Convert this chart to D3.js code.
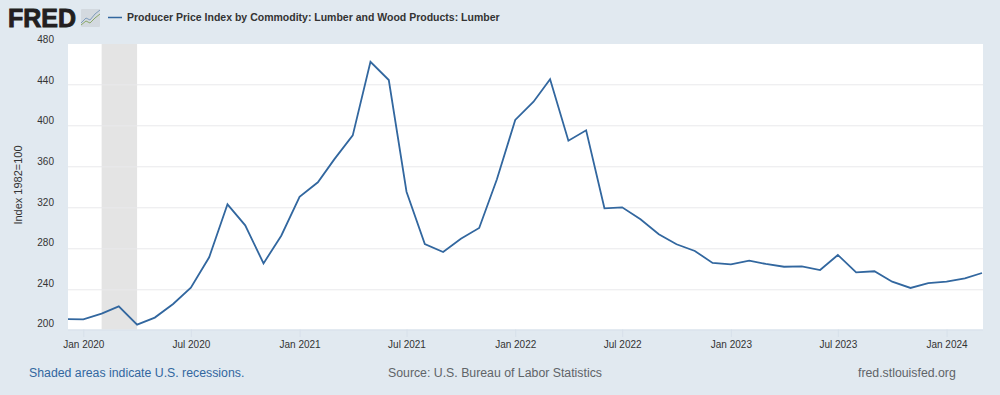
<!DOCTYPE html>
<html>
<head>
<meta charset="utf-8">
<title>Producer Price Index by Commodity: Lumber</title>
<script src="https://cdn.jsdelivr.net/npm/d3@7"></script>
<style>
    html, body { margin: 0; padding: 0; background: #e1e9f0; overflow: hidden; }
    svg { display: block; font-family: "Liberation Sans", Arial, sans-serif; }
</style>
</head>
<body>
<div id="chart"></div>
<script>
const seriesName = 'Producer Price Index by Commodity: Lumber and Wood Products: Lumber';
const firstMonth = '2019-12-01';
const lumberValues = [
    211, 210.7, 216.3, 223.4, 205.5, 212.4, 225.7, 241.6, 271.2, 322.9, 302.4, 265.3, 292.3,
    330.3, 344.4, 367, 390.2, 462, 444.2, 335.2, 284.2, 276.4, 289.4, 299.8, 347.3,
    405.2, 423, 444.9, 385, 395.1, 319, 320, 308.3, 293.7, 283.9, 277.4, 265.7,
    264.4, 267.9, 264.7, 262, 262.4, 258.8, 273.5, 256.6, 257.6, 247.4, 241.3, 246.1,
    247.4, 250.7, 255.9
];
const yTicks = [200, 240, 280, 320, 360, 400, 440, 480];
const xTicks = ['2020-01-01', '2020-07-01', '2021-01-01', '2021-07-01', '2022-01-01', '2022-07-01', '2023-01-01', '2023-07-01', '2024-01-01'];
const recessions = [['2020-02-01', '2020-04-01']];

const width = 1000;
const height = 395;
const plot = {left: 68, right: 983, top: 44, bottom: 329.5};
const parseDate = d3.utcParse('%Y-%m-%d');

const months = lumberValues.map((v, i) => d3.utcMonth.offset(parseDate(firstMonth), i));
const data = months.map((date, i) => ({date: date, value: lumberValues[i]}));

const x = d3.scaleUtc()
    .domain([parseDate(firstMonth), months[months.length - 1]])
    .range([65, 982]);

const y = d3.scaleLinear()
    .domain([200, 480])
    .range([330.3, 43.3]);

const svg = d3.select('#chart')
    .append('svg')
    .attr('width', width)
    .attr('height', height);

svg.append('clipPath')
    .attr('id', 'plot-clip')
    .append('rect')
    .attr('x', plot.left)
    .attr('y', plot.top)
    .attr('width', plot.right - plot.left)
    .attr('height', plot.bottom - plot.top);

svg.append('rect')
    .attr('x', plot.left)
    .attr('y', plot.top)
    .attr('width', plot.right - plot.left)
    .attr('height', plot.bottom - plot.top)
    .attr('fill', '#fff');

svg.selectAll('.recession')
    .data(recessions)
    .join('rect')
    .attr('class', 'recession')
    .attr('x', d => x(parseDate(d[0])))
    .attr('y', plot.top)
    .attr('width', d => x(parseDate(d[1])) - x(parseDate(d[0])))
    .attr('height', plot.bottom - plot.top)
    .attr('fill', '#e4e4e4');

// y axis: gridlines across the plot, labels sit just above them
const yAxis = svg.append('g')
    .attr('transform', `translate(${plot.left},0)`)
    .call(d3.axisLeft(y).tickValues(yTicks).tickSize(-(plot.right - plot.left)).tickPadding(14));
yAxis.select('.domain').remove();
yAxis.selectAll('.tick line')
    .attr('stroke', '#e9e9ec')
    .attr('stroke-width', 1)
    .attr('display', d => d === 200 || d === 480 ? 'none' : null);
// the labels in the original are spaced a little tighter than the gridlines
yAxis.selectAll('.tick text')
    .attr('dy', d => -3.5 + 3 * (d - 200) / 280)
    .attr('fill', '#333')
    .style('font-size', '10px');

const xAxis = svg.append('g')
    .attr('transform', `translate(0,${plot.bottom})`)
    .call(d3.axisBottom(x)
        .tickValues(xTicks.map(parseDate))
        .tickSize(7.5)
        .tickPadding(3.5)
        .tickFormat(d3.utcFormat('%b %Y')));
xAxis.select('.domain')
    .attr('d', `M${plot.left},0.5H${plot.right}`)
    .attr('stroke', '#d7e0ea');
xAxis.selectAll('.tick line').attr('stroke', '#d7e0ea');
xAxis.selectAll('.tick text')
    .attr('fill', '#333')
    .style('font-size', '10px');

const line = d3.line()
    .x(d => x(d.date))
    .y(d => y(d.value));

svg.append('path')
    .datum(data)
    .attr('clip-path', 'url(#plot-clip)')
    .attr('fill', 'none')
    .attr('stroke', '#32679f')
    .attr('stroke-width', 1.8)
    .attr('stroke-linejoin', 'miter')
    .attr('d', line);

svg.append('text')
    .attr('transform', 'translate(21.5,185) rotate(-90)')
    .attr('text-anchor', 'middle')
    .attr('fill', '#333')
    .style('font-size', '11px')
    .text('Index 1982=100');

// header: logo and legend
svg.append('text')
    .attr('x', 8)
    .attr('y', 27)
    .attr('fill', '#231f20')
    .attr('stroke', '#231f20')
    .attr('stroke-width', 0.9)
    .style('font-size', '25px')
    .style('font-weight', 'bold')
    .attr('textLength', 68)
    .attr('lengthAdjust', 'spacingAndGlyphs')
    .text('FRED');

const logo = svg.append('g').attr('transform', 'translate(81,9)');
logo.append('rect').attr('width', 19).attr('height', 18).attr('rx', 1).attr('fill', '#d3d9df');
logo.append('path')
    .attr('d', 'M0,14L5,9L9,11L14,5L19,1')
    .attr('fill', 'none').attr('stroke', '#7f9dbd').attr('stroke-width', 1);
logo.append('path')
    .attr('d', 'M0,16L5,12L9,14L14,9L19,5')
    .attr('fill', 'none').attr('stroke', '#8aa86a').attr('stroke-width', 1);

svg.append('line')
    .attr('x1', 108)
    .attr('x2', 122)
    .attr('y1', 17.5)
    .attr('y2', 17.5)
    .attr('stroke', '#32679f')
    .attr('stroke-width', 1.5);

svg.append('text')
    .attr('x', 127)
    .attr('y', 21)
    .attr('fill', '#333')
    .style('font-size', '10.5px')
    .style('font-weight', 'bold')
    .text(seriesName);

// footer
const footer = [
    {text: 'Shaded areas indicate U.S. recessions.', x: 29, color: '#32679f'},
    {text: 'Source: U.S. Bureau of Labor Statistics', x: 388, color: '#606468'},
    {text: 'fred.stlouisfed.org', x: 858, color: '#606468'}
];
svg.selectAll('.footer')
    .data(footer)
    .join('text')
    .attr('class', 'footer')
    .attr('x', d => d.x)
    .attr('y', 377)
    .attr('fill', d => d.color)
    .style('font-size', '12.3px')
    .text(d => d.text);
</script>
</body>
</html>
